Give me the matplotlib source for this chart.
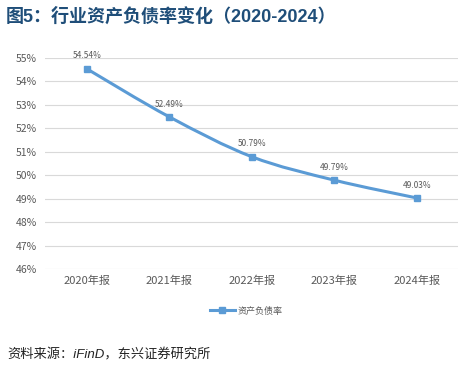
import numpy as np
import matplotlib
matplotlib.use("Agg")
from matplotlib import pyplot as plt
from matplotlib.path import Path
from matplotlib.patches import PathPatch
from matplotlib.lines import Line2D

plt.rcParams['font.family'] = ['Noto Sans CJK SC', 'DejaVu Sans']

years = ['2020年报', '2021年报', '2022年报', '2023年报', '2024年报']
debt_ratio = [54.54, 52.49, 50.79, 49.79, 49.03]
yticks = list(range(46, 56))

line_color = '#5B9BD5'
text_gray = '#595959'

fig = plt.figure(figsize=(4.77, 3.69), dpi=100)
ax = fig.add_axes([45.5 / 477, 1 - 269 / 369, (458 - 45.5) / 477, (269 - 58) / 369])

x = np.arange(len(years))
y = np.array(debt_ratio)

# smooth line like excel (catmull-rom -> bezier)
verts = [(x[0], y[0])]
codes = [Path.MOVETO]
px = np.concatenate([[x[0]], x, [x[-1]]])
py = np.concatenate([[y[0]], y, [y[-1]]])
for i in range(1, len(px) - 2):
    c1 = (px[i] + (px[i + 1] - px[i - 1]) / 6, py[i] + (py[i + 1] - py[i - 1]) / 6)
    c2 = (px[i + 1] - (px[i + 2] - px[i]) / 6, py[i + 1] - (py[i + 2] - py[i]) / 6)
    verts += [c1, c2, (px[i + 1], py[i + 1])]
    codes += [Path.CURVE4] * 3
ax.add_patch(PathPatch(Path(verts, codes), facecolor='none', edgecolor=line_color, lw=2.2, zorder=3))
ax.plot(x, y, ls='none', marker='s', ms=5, color=line_color, zorder=4)

for xi, yi in zip(x, y):
    ax.annotate(f'{yi:.2f}%', (xi, yi), xytext=(0, 6), textcoords='offset points',
                ha='center', va='bottom', fontsize=6, color=text_gray)

ax.set_xlim(-0.5, len(years) - 0.5)
ax.set_ylim(46, 55)
ax.set_yticks(yticks)
ax.set_yticklabels([f'{v}%' for v in yticks], fontsize=7.5, color=text_gray)
ax.set_xticks(x)
ax.set_xticklabels(years, fontsize=8, color=text_gray)
ax.grid(axis='y', color='#D9D9D9', lw=0.8)
ax.set_axisbelow(True)
for s in ax.spines.values():
    s.set_visible(False)
ax.tick_params(length=0, pad=6)
ax.tick_params(axis='x', pad=5)

handle = Line2D([], [], color=line_color, lw=2.2, marker='s', ms=5)
fig.legend([handle], ['资产负债率'], loc='center', bbox_to_anchor=(246 / 477, 1 - 311 / 369),
           frameon=False, fontsize=6.5, labelcolor=text_gray, handlelength=2.8, handletextpad=0.3)

fig.text(6 / 477, 1 - 17 / 369, '图5：行业资产负债率变化（2020-2024）', fontsize=13,
         fontweight='bold', color='#1F4E79', ha='left', va='center',
         family=['Liberation Sans', 'Noto Sans CJK SC'])
fig.text(7 / 477, 1 - 355 / 369, '资料来源：iFinD，东兴证券研究所', fontsize=9.5,
         style='italic', color='#222222', ha='left', va='center',
         family=['Liberation Sans', 'Noto Sans CJK SC'])

fig.savefig('out.png', dpi=100)
